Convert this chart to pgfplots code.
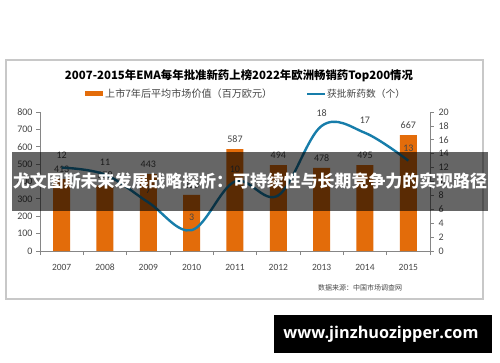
\documentclass[border=0pt]{standalone}
\usepackage{fontspec}
\setmainfont{Carlito}
\newfontfamily\cjk{Noto Sans CJK SC}
\newfontfamily\wm{Open Sans}
\usepackage{pgfplots}
\usepackage{pgfplotstable}
\pgfplotsset{compat=1.18}
\definecolor{barorange}{RGB}{227,108,10}
\definecolor{lineblue}{RGB}{23,125,170}
\definecolor{axgray}{RGB}{134,134,134}
\definecolor{txtgray}{RGB}{70,70,70}
\definecolor{framegray}{RGB}{200,200,200}
\pgfplotstableread{
x val n
0 413 12
1 378 11
2 443 7
3 323 3
4 587 10
5 494 8
6 478 18
7 495 17
8 667 13
}\data
\pgfplotsset{/pgf/number format/assume math mode=true}
\begin{document}
\begin{tikzpicture}[x=1pt,y=1pt]
\path[use as bounding box] (0,0) rectangle (500,362);
\fill[white] (0,0) rectangle (500,362);
\draw[framegray, line width=1.2pt] (6,63) rectangle (483,302);
% title
\node[anchor=center, inner sep=0pt] at (239,286) {\resizebox{348pt}{!}{\cjk\bfseries 2007-2015年EMA每年批准新药上榜2022年欧洲畅销药Top200情况}};
% legend
\fill[barorange] (85,265.5) rectangle (103,270.5);
\node[anchor=west, inner sep=0pt, text=txtgray] at (105,268) {\resizebox{167pt}{!}{\cjk 上市7年后平均市场价值（百万欧元）}};
\draw[lineblue, line width=2.4pt] (307,268) -- (325,268);
\node[anchor=west, inner sep=0pt, text=txtgray] at (327,268) {\resizebox{78pt}{!}{\cjk 获批新药数（个）}};
% bars
\begin{axis}[
  at={(40pt,111pt)}, anchor=south west, scale only axis,
  width=390pt, height=139pt,
  xmin=-0.5, xmax=8.5, ymin=0, ymax=800,
  axis x line*=bottom, axis y line*=left,
  axis line style={axgray, line width=0.8pt},
  ybar, bar width=17pt,
  xtick={0,1,2,3,4,5,6,7,8},
  xticklabels={2007,2008,2009,2010,2011,2012,2013,2014,2015},
  major x tick style={draw=none},
  minor xtick={-0.5,0.5,...,8.5},
  minor x tick style={axgray, line width=0.8pt},
  minor tick length=4pt,
  ytick={0,100,...,800},
  major y tick style={axgray, line width=0.8pt},
  major tick length=4pt,
  tick align=outside,
  xticklabel style={font=\fontsize{9.5}{10}\selectfont, text=txtgray, text height=7pt, text depth=0pt, anchor=north, yshift=-5pt},
  yticklabel style={font=\fontsize{10}{11}\selectfont, text=txtgray},
  scaled y ticks=false,
  clip=false,
]
\addplot[fill=barorange, draw=none,
  nodes near coords,
  every node near coord/.append style={font=\fontsize{10}{11}\selectfont, text=txtgray, anchor=center, yshift=10pt}]
  table[x=x, y=val] {\data};
\end{axis}
% line
\begin{axis}[
  at={(40pt,111pt)}, anchor=south west, scale only axis,
  width=390pt, height=139pt,
  xmin=-0.5, xmax=8.5, ymin=0, ymax=20,
  axis x line=none, axis y line*=right,
  axis line style={axgray, line width=0.8pt},
  ytick={0,2,...,20},
  major y tick style={axgray, line width=0.8pt},
  major tick length=4pt,
  tick align=outside,
  yticklabel style={font=\fontsize{10}{11}\selectfont, text=txtgray, xshift=1pt},
  clip=false,
]
\addplot[lineblue, line width=2.4pt, smooth, tension=0.6,
  nodes near coords,
  every node near coord/.append style={font=\fontsize{10}{11}\selectfont, text=txtgray, anchor=center, yshift=12.5pt}]
  table[x=x, y=n] {\data};
\end{axis}
% source
\node[text=txtgray, inner sep=0pt] at (360,74) {\cjk\fontsize{7}{8}\selectfont 数据来源：中国市场调查网};
% banner
\fill[black, opacity=0.6] (12,151) rectangle (488,210);
\node[text=white, inner sep=0pt] at (250,180.5) {\resizebox{474pt}{!}{\cjk\bfseries 尤文图斯未来发展战略探析：可持续性与长期竞争力的实现路径}};
% watermark
\fill[black] (274,9) rectangle (492,47);
\node[text=white, inner sep=0pt] at (381,28) {\resizebox{195pt}{!}{\wm\bfseries www.jinzhuozipper.com}};
\end{tikzpicture}
\end{document}
